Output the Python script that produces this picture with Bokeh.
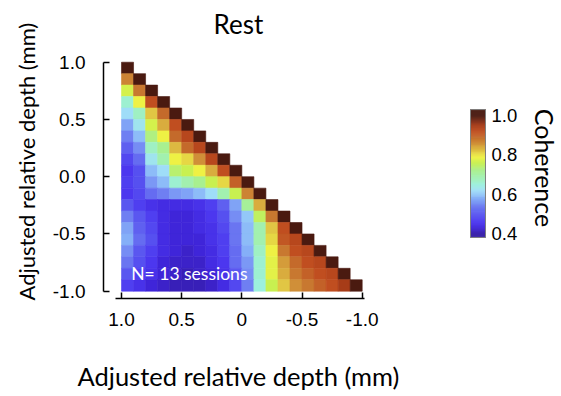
import numpy as np
from bokeh.plotting import figure
from bokeh.models import (ColumnDataSource, LinearColorMapper, Range1d, FixedTicker,
                          Label, Title, CustomJSTickFormatter)
from bokeh.core.properties import value
from bokeh.embed import file_html
from bokeh.resources import INLINE

# ---------------- data ----------------
depth_centers = [0.95, 0.85, 0.75, 0.65, 0.55, 0.45, 0.35, 0.25, 0.15, 0.05,
                 -0.05, -0.15, -0.25, -0.35, -0.45, -0.55, -0.65, -0.75, -0.85, -0.95]

coh_r00 = [1.00]
coh_r01 = [0.87, 1.00]
coh_r02 = [0.77, 0.88, 1.00]
coh_r03 = [0.66, 0.79, 0.92, 1.00]
coh_r04 = [0.62, 0.67, 0.82, 0.89, 1.00]
coh_r05 = [0.57, 0.63, 0.77, 0.84, 0.92, 1.00]
coh_r06 = [0.54, 0.59, 0.73, 0.79, 0.89, 0.93, 1.00]
coh_r07 = [0.51, 0.55, 0.67, 0.72, 0.83, 0.89, 0.93, 1.00]
coh_r08 = [0.48, 0.52, 0.63, 0.69, 0.79, 0.81, 0.86, 0.93, 1.00]
coh_r09 = [0.46, 0.49, 0.59, 0.62, 0.74, 0.76, 0.79, 0.84, 0.92, 1.00]
coh_r10 = [0.47, 0.49, 0.56, 0.59, 0.66, 0.69, 0.72, 0.76, 0.81, 0.90, 1.00]
coh_r11 = [0.46, 0.48, 0.52, 0.54, 0.56, 0.57, 0.59, 0.62, 0.69, 0.76, 0.87, 1.00]
coh_r12 = [0.50, 0.47, 0.45, 0.44, 0.44, 0.44, 0.45, 0.47, 0.51, 0.57, 0.71, 0.84, 1.00]
coh_r13 = [0.54, 0.50, 0.47, 0.44, 0.43, 0.43, 0.44, 0.46, 0.49, 0.55, 0.60, 0.75, 0.88, 1.00]
coh_r14 = [0.57, 0.51, 0.48, 0.44, 0.43, 0.43, 0.44, 0.45, 0.48, 0.53, 0.59, 0.69, 0.82, 0.92, 1.00]
coh_r15 = [0.58, 0.52, 0.49, 0.44, 0.43, 0.43, 0.43, 0.45, 0.47, 0.53, 0.59, 0.69, 0.81, 0.91, 0.93, 1.00]
coh_r16 = [0.55, 0.50, 0.47, 0.44, 0.43, 0.42, 0.43, 0.44, 0.47, 0.52, 0.58, 0.67, 0.79, 0.88, 0.92, 0.93, 1.00]
coh_r17 = [0.53, 0.49, 0.46, 0.43, 0.42, 0.42, 0.42, 0.44, 0.46, 0.52, 0.56, 0.66, 0.78, 0.85, 0.89, 0.92, 0.93, 1.00]
coh_r18 = [0.50, 0.47, 0.45, 0.43, 0.42, 0.41, 0.42, 0.43, 0.45, 0.50, 0.55, 0.66, 0.78, 0.84, 0.88, 0.90, 0.92, 0.93, 1.00]
coh_r19 = [0.47, 0.45, 0.43, 0.42, 0.41, 0.41, 0.41, 0.42, 0.44, 0.48, 0.54, 0.65, 0.76, 0.82, 0.86, 0.88, 0.90, 0.92, 0.95, 1.00]

coh_rows = [coh_r00, coh_r01, coh_r02, coh_r03, coh_r04, coh_r05, coh_r06, coh_r07,
            coh_r08, coh_r09, coh_r10, coh_r11, coh_r12, coh_r13, coh_r14, coh_r15,
            coh_r16, coh_r17, coh_r18, coh_r19]

tick_values = [1.0, 0.5, 0.0, -0.5, -1.0]
x_tick_labels = ["1.0", "0.5", "0", "-0.5", "-1.0"]
y_tick_labels = ["1.0", "0.5", "0.0", "-0.5", "-1.0"]
cb_tick_values = [0.4, 0.6, 0.8, 1.0]
cb_tick_labels = ["0.4", "0.6", "0.8", "1.0"]
cb_low, cb_high = 0.38, 1.03          # extent of the colour bar strip
n_sessions = 13
title_text = "Rest"
axis_title = "Adjusted relative depth (mm)"
cb_title = "Coherence"

# ---------------- colour map ----------------
stops = [(0.40, "#341ca8"), (0.43, "#4026dc"), (0.46, "#4c38f0"), (0.50, "#5a58f0"),
         (0.54, "#7080f2"), (0.58, "#86b0f8"), (0.62, "#a0def8"), (0.65, "#9cf0dc"),
         (0.68, "#a0f0b8"), (0.72, "#a8f090"), (0.76, "#c8f050"), (0.79, "#eef244"),
         (0.82, "#e2c844"), (0.86, "#d09038"), (0.89, "#c46c2c"), (0.92, "#c04e20"),
         (0.95, "#a83c18"), (0.975, "#7a2812"), (1.00, "#4a1a10")]


def _rgb(h):
    return np.array([int(h[i:i + 2], 16) for i in (1, 3, 5)], dtype=float)


sv = np.array([s[0] for s in stops])
sc = np.array([_rgb(s[1]) for s in stops])
palette = []
for t in np.linspace(0.4, 1.0, 256):
    c = [np.interp(t, sv, sc[:, k]) for k in range(3)]
    palette.append("#%02x%02x%02x" % tuple(int(round(v)) for v in c))

mapper = LinearColorMapper(palette=palette, low=0.4, high=1.0)

# ---------------- sources ----------------
xs, ys, vs = [], [], []
for i, r in enumerate(coh_rows):
    for j, v in enumerate(r):
        xs.append(depth_centers[j])
        ys.append(depth_centers[i])
        vs.append(v)
src = ColumnDataSource(dict(x=xs, y=ys, v=vs))

edges = np.linspace(cb_low, cb_high, 131)
cb_src = ColumnDataSource(dict(bottom=edges[:-1], top=edges[1:], v=(edges[:-1] + edges[1:]) / 2))
cb_lab_src = ColumnDataSource(dict(y=cb_tick_values, text=cb_tick_labels))


def fmt(vals, labs):
    return CustomJSTickFormatter(args=dict(vals=vals, labs=labs), code="""
        for (let k = 0; k < vals.length; k++) {
            if (Math.abs(vals[k] - tick) < 1e-6) { return labs[k]; }
        }
        return '';
    """)


# ---------------- figure ----------------
p = figure(width=561, height=396, x_range=Range1d(1.1496, -2.656), y_range=Range1d(-1.0637, 1.5389),
           output_backend="svg", toolbar_location=None,
           min_border_left=103, min_border_right=0, min_border_top=0, min_border_bottom=98)
p.extra_y_ranges = {"cb": Range1d(0.0696, 1.5846)}

p.rect(x="x", y="y", width=0.1, height=0.1, source=src,
       fill_color={"field": "v", "transform": mapper},
       line_color={"field": "v", "transform": mapper}, line_width=0.6)

p.outline_line_color = None
p.xgrid.visible = False
p.ygrid.visible = False
p.background_fill_color = "white"
p.border_fill_color = "white"

for ax, labs in ((p.xaxis[0], x_tick_labels), (p.yaxis[0], y_tick_labels)):
    ax.ticker = FixedTicker(ticks=tick_values)
    ax.formatter = fmt(tick_values, labs)
    ax.major_tick_in = 6
    ax.major_tick_out = 0
    ax.minor_tick_line_color = None
    ax.axis_line_width = 1.5
    ax.major_tick_line_width = 1.5
    ax.axis_line_color = "black"
    ax.major_tick_line_color = "black"
    ax.major_label_text_font = "Liberation Sans"
    ax.major_label_text_font_size = "19px"
    ax.major_label_text_color = "black"
    ax.axis_label = " "                      # spacer between tick labels and the title
    ax.axis_label_text_font = "Liberation Sans"

p.xaxis.bounds = (-1.02, 1.05)
p.yaxis.bounds = (-1.0, 1.0)
p.xaxis.major_label_standoff = 14
p.yaxis.major_label_standoff = 18
p.xaxis.axis_label_text_font_size = "18px"
p.xaxis.axis_label_standoff = 7
p.yaxis.axis_label_text_font_size = "4px"
p.yaxis.axis_label_standoff = 0

# axis titles (panel titles, outside the frame)
p.add_layout(Title(text=axis_title, align="left", offset=-26, vertical_align="top", standoff=4,
                   text_font="Lato", text_font_size="25.5px", text_font_style="normal",
                   text_color="black"), "below")
p.add_layout(Title(text=axis_title, align="left", offset=-2, vertical_align="bottom", standoff=4,
                   text_font="Lato", text_font_size="22px", text_font_style="normal",
                   text_color="black"), "left")

# colour bar (drawn through the extra "cb" range)
p.quad(left=-1.900, right=-2.0245, bottom="bottom", top="top", source=cb_src, y_range_name="cb",
       fill_color={"field": "v", "transform": mapper},
       line_color={"field": "v", "transform": mapper}, line_width=0.6)
p.quad(left=-1.900, right=-2.0245, bottom=cb_low, top=cb_high, y_range_name="cb",
       fill_color=None, line_color="#808080", line_width=1)
p.text(x=-2.0744, y="y", text="text", source=cb_lab_src, y_range_name="cb",
       text_font=value("Liberation Sans"), text_font_size="18.5px", text_color="black",
       text_align="left", text_baseline="middle")

# texts inside the frame
p.add_layout(Label(x=0.919, y=-0.845, text="N= %d sessions" % n_sessions, text_color="white",
                   text_font="Lato", text_font_size="17.5px", text_baseline="alphabetic",
                   text_align="left"))
p.add_layout(Label(x=0.028, y=1.332, text=title_text, text_color="black",
                   text_font="Lato", text_font_size="26px", text_baseline="alphabetic",
                   text_align="center"))
p.add_layout(Label(x=-2.515, y=0.733, y_range_name="cb", text=cb_title, text_color="black",
                   angle=-np.pi / 2, text_font="Lato", text_font_size="25px",
                   text_baseline="middle", text_align="center"))

open("out.html", "w").write(file_html(p, INLINE))
